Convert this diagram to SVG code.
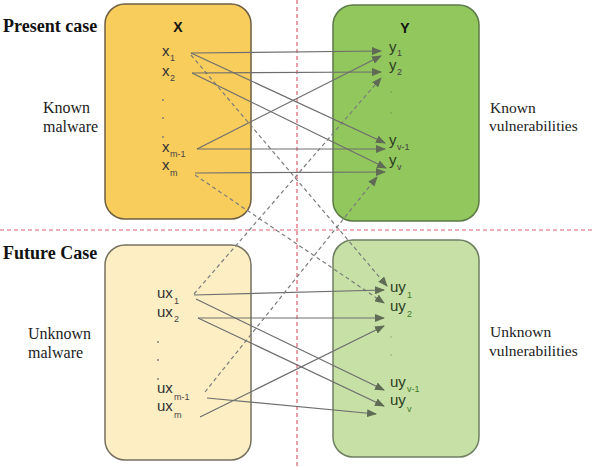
<svg xmlns="http://www.w3.org/2000/svg" width="595" height="467" viewBox="0 0 595 467">
<defs>
<marker id="ah" viewBox="0 0 10 8" refX="9" refY="4" markerWidth="10" markerHeight="8" markerUnits="userSpaceOnUse" orient="auto">
<path d="M0,0 L10,4 L0,8 z" fill="#5f6b55"/>
</marker>
</defs>
<style>
.case{font-family:'Liberation Serif','Times New Roman',serif;font-weight:bold;font-size:18px;fill:#111}
.lbl{font-family:'Liberation Serif','Times New Roman',serif;font-size:16px;fill:#222}
.lbr{font-family:'Liberation Serif','Times New Roman',serif;font-size:15.5px;fill:#222}
.hd{font-family:'Liberation Sans',Arial,sans-serif;font-weight:bold;font-size:14px;fill:#111}
.v{font-family:'Liberation Sans',Arial,sans-serif;font-size:15px;fill:#333}
.vy{font-family:'Liberation Sans',Arial,sans-serif;font-size:15px;fill:#2d3f22}
.s{font-family:'Liberation Sans',Arial,sans-serif;font-size:9px;fill:#444}
.sg{font-family:'Liberation Sans',Arial,sans-serif;font-size:9px;fill:#3f7a28}
.dot{fill:#777}
.c{fill:none;stroke:#6e6e6e;stroke-width:1.2}
.d{fill:none;stroke:#7c7c7c;stroke-width:1.2;stroke-dasharray:4 3}
.sep{fill:none;stroke:#e0606e;stroke-width:1.2;stroke-dasharray:4 3}
</style>
<rect width="595" height="467" fill="#ffffff"/>

<g id="separators">
<line class="sep" x1="297" y1="0" x2="297" y2="467"/>
<line class="sep" x1="0" y1="230" x2="595" y2="230"/>
</g>

<g id="labels" font-family="'Liberation Serif', serif">
<text class="case" x="3" y="32">Present case</text>
<text class="case" x="3" y="259">Future Case</text>
<text class="lbl" x="43" y="113" font-family="'Liberation Serif', serif">Known</text>
<text class="lbl" x="43" y="132" font-family="'Liberation Serif', serif">malware</text>
<text class="lbl" x="28" y="339" font-family="'Liberation Serif', serif">Unknown</text>
<text class="lbl" x="28" y="358" font-family="'Liberation Serif', serif">malware</text>
<text class="lbr" x="490" y="113" font-family="'Liberation Serif', serif">Known</text>
<text class="lbr" x="489" y="131" font-family="'Liberation Serif', serif">vulnerabilities</text>
<text class="lbr" x="490" y="337" font-family="'Liberation Serif', serif">Unknown</text>
<text class="lbr" x="489" y="356" font-family="'Liberation Serif', serif">vulnerabilities</text>
</g>

<g id="node-X">
<rect x="105" y="4" width="146" height="215" rx="20" fill="#f8cd5c" stroke="#6e5f44" stroke-width="1.5"/>
<text class="hd" x="178" y="32" text-anchor="middle">X</text>
<text class="v" x="162" y="56">x</text><text class="s" x="170" y="61">1</text>
<text class="v" x="162" y="76">x</text><text class="s" x="170" y="81">2</text>
<circle class="dot" cx="163" cy="100" r="0.9"/>
<circle class="dot" cx="163" cy="118" r="0.9"/>
<circle class="dot" cx="163" cy="137" r="0.9"/>
<text class="v" x="162" y="152">x</text><text class="s" x="170" y="157">m-1</text>
<text class="v" x="162" y="170">x</text><text class="s" x="170" y="176">m</text>
</g>

<g id="node-Y">
<rect x="333" y="5" width="146" height="216" rx="20" fill="#91c75c" stroke="#5b7a47" stroke-width="1.5"/>
<text class="hd" x="405" y="33" text-anchor="middle">Y</text>
<text class="vy" x="389" y="52">y</text><text class="s" x="397" y="56">1</text>
<text class="vy" x="389" y="70">y</text><text class="s" x="397" y="75">2</text>
<circle cx="391" cy="92" r="0.8" fill="#6a9a4a"/>
<circle cx="391" cy="113" r="0.8" fill="#6a9a4a"/>
<text class="vy" x="389" y="145">y</text><text class="s" x="397" y="150">v-1</text>
<text class="vy" x="389" y="165">y</text><text class="s" x="397" y="170">v</text>
</g>

<g id="node-UX">
<rect x="105" y="245" width="146" height="215" rx="20" fill="#fdeec4" stroke="#75705f" stroke-width="1.5"/>
<text class="v" x="157" y="298">ux</text><text class="s" x="174" y="304">1</text>
<text class="v" x="157" y="317">ux</text><text class="s" x="174" y="322">2</text>
<circle class="dot" cx="158" cy="342" r="0.9"/>
<circle class="dot" cx="158" cy="360" r="0.9"/>
<circle class="dot" cx="158" cy="379" r="0.9"/>
<text class="v" x="157" y="393">ux</text><text class="s" x="174" y="400">m-1</text>
<text class="v" x="157" y="411">ux</text><text class="s" x="174" y="418">m</text>
</g>

<g id="node-UY">
<rect x="333" y="240" width="146" height="217" rx="20" fill="#c6e0a6" stroke="#6f7f62" stroke-width="1.5"/>
<text class="vy" x="390" y="292">uy</text><text class="sg" x="407" y="298">1</text>
<text class="vy" x="390" y="311">uy</text><text class="sg" x="407" y="317">2</text>
<circle cx="391" cy="337" r="0.8" fill="#8aa870"/>
<circle cx="391" cy="355" r="0.8" fill="#8aa870"/>
<text class="vy" x="390" y="387">uy</text><text class="sg" x="407" y="392">v-1</text>
<text class="vy" x="390" y="405">uy</text><text class="sg" x="407" y="412">v</text>
</g>

<g id="connectors">
<line class="c" x1="191" y1="53" x2="381" y2="51" marker-end="url(#ah)"/>
<line class="c" x1="191" y1="53" x2="385" y2="143" marker-end="url(#ah)"/>
<line class="d" x1="191" y1="55" x2="387" y2="286" marker-end="url(#ah)"/>
<line class="c" x1="192" y1="73" x2="381" y2="72" marker-end="url(#ah)"/>
<line class="c" x1="192" y1="73" x2="386" y2="168" marker-end="url(#ah)"/>
<line class="c" x1="197" y1="149" x2="381" y2="56" marker-end="url(#ah)"/>
<line class="c" x1="197" y1="149" x2="385" y2="149" marker-end="url(#ah)"/>
<line class="c" x1="195" y1="173" x2="385" y2="172" marker-end="url(#ah)"/>
<line class="d" x1="195" y1="175" x2="384" y2="303" marker-end="url(#ah)"/>

<line class="c" x1="194" y1="295" x2="384" y2="290" marker-end="url(#ah)"/>
<line class="c" x1="196" y1="299" x2="384" y2="390" marker-end="url(#ah)"/>
<line class="d" x1="194" y1="294" x2="381" y2="78" marker-end="url(#ah)"/>
<line class="c" x1="198" y1="318" x2="384" y2="318" marker-end="url(#ah)"/>
<line class="c" x1="198" y1="318" x2="384" y2="406" marker-end="url(#ah)"/>
<line class="d" x1="205" y1="392" x2="377" y2="177" marker-end="url(#ah)"/>
<line class="c" x1="207" y1="398" x2="376" y2="414" marker-end="url(#ah)"/>
<line class="c" x1="200" y1="417" x2="384" y2="326" marker-end="url(#ah)"/>
</g>
</svg>
